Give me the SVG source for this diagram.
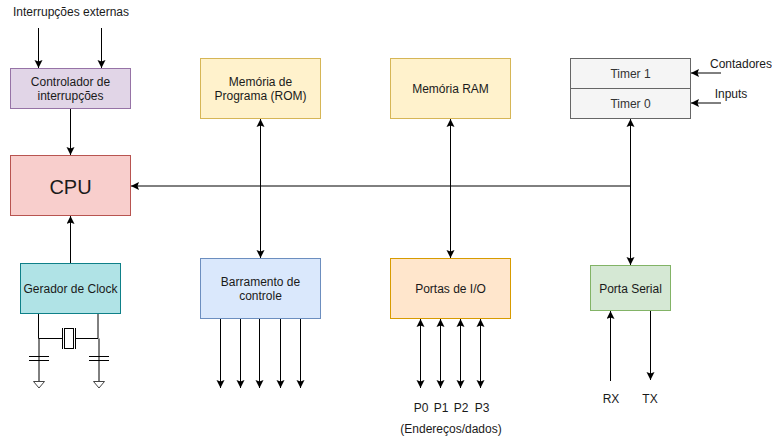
<svg xmlns="http://www.w3.org/2000/svg" width="772" height="439" viewBox="0 0 772 439">
<style>
text{font-family:"Liberation Sans",Arial,sans-serif;font-size:12px;fill:#1a1a1a;text-anchor:middle}
.c{fill:none;stroke:#000;stroke-width:1}
.a{marker-end:url(#h)}
.d{marker-start:url(#hs);marker-end:url(#h)}
</style>
<defs>
<marker id="h" markerUnits="userSpaceOnUse" markerWidth="10" markerHeight="10" refX="8" refY="4" orient="auto"><path d="M0 0L8 4L0 8L1.500 4Z" fill="#000"/></marker>
<marker id="hs" markerUnits="userSpaceOnUse" markerWidth="10" markerHeight="10" refX="0" refY="4" orient="auto"><path d="M8 0L0 4L8 8L6.500 4Z" fill="#000"/></marker>
</defs>
<rect width="772" height="439" fill="#fff"/>
<g id="connectors">
<path class="c a" d="M38.500 28V68"/>
<path class="c a" d="M101.500 28V68"/>
<path class="c a" d="M70.500 108V155"/>
<path class="c a" d="M70.500 263V216"/>
<path class="c a" d="M630.500 186H131"/>
<path class="c d" d="M260.500 119V258"/>
<path class="c d" d="M450.500 119V258"/>
<path class="c d" d="M630.500 119V265"/>
<path class="c a" d="M220.500 319V388"/>
<path class="c a" d="M240.500 319V388"/>
<path class="c a" d="M259.500 319V388"/>
<path class="c a" d="M280.500 319V388"/>
<path class="c a" d="M300.500 319V388"/>
<path class="c d" d="M420.500 319V388"/>
<path class="c d" d="M440.500 319V388"/>
<path class="c d" d="M460.500 319V388"/>
<path class="c d" d="M480.500 319V388"/>
<path class="c a" d="M610.500 381V311"/>
<path class="c a" d="M650.500 311V380"/>
<path class="c a" d="M721 73H691"/>
<path class="c a" d="M721 103H691"/>
</g>
<g id="crystal" fill="none" stroke="#000">
<path d="M38.500 314V338.500H62M76 338.500H98"/>
<path d="M98 314V338.500M39 338.500V382M99 338.500V382"/>
<rect x="64.500" y="328.500" width="9" height="20" fill="#fff"/>
<path d="M62.500 328V349M75.500 328V349"/>
<path d="M29 356.500H49M29 360.500H49M89 356.500H109M89 360.500H109"/>
<path d="M33.500 381.500H44.500L39 388Z M93.500 381.500H104.500L99 388Z" fill="#fff" stroke="#444"/>
</g>
<g id="int"><rect x="10.500" y="68.500" width="120" height="40" fill="#e1d5e7" stroke="#9673a6"/><text x="70.500" y="86">Controlador de</text><text x="70.500" y="100">interrupções</text></g>
<g id="cpu"><rect x="10.500" y="155.500" width="120" height="60" fill="#f8cecc" stroke="#b85450"/><text x="70.500" y="194" style="font-size:20px">CPU</text></g>
<g id="clock"><rect x="20.500" y="263.500" width="100" height="50" fill="#b0e3e6" stroke="#0e8088"/><text x="70.500" y="293">Gerador de Clock</text></g>
<g id="rom"><rect x="200.500" y="58.500" width="120" height="60" fill="#fff2cc" stroke="#d6b656"/><text x="260.500" y="86">Memória de</text><text x="260.500" y="100">Programa (ROM)</text></g>
<g id="ram"><rect x="390.500" y="58.500" width="120" height="60" fill="#fff2cc" stroke="#d6b656"/><text x="450.500" y="93">Memória RAM</text></g>
<g id="timer1"><rect x="570.500" y="58.500" width="120" height="30" fill="#f5f5f5" stroke="#666"/><text x="630.500" y="78" style="fill:#333">Timer 1</text></g>
<g id="timer0"><rect x="570.500" y="88.500" width="120" height="30" fill="#f5f5f5" stroke="#666"/><text x="630.500" y="108" style="fill:#333">Timer 0</text></g>
<g id="ctrl"><rect x="200.500" y="258.500" width="120" height="60" fill="#dae8fc" stroke="#6c8ebf"/><text x="260.500" y="286">Barramento de</text><text x="260.500" y="300">controle</text></g>
<g id="io"><rect x="390.500" y="258.500" width="120" height="60" fill="#ffe6cc" stroke="#d79b00"/><text x="450.500" y="293">Portas de I/O</text></g>
<g id="serial"><rect x="590.500" y="265.500" width="80" height="45" fill="#d5e8d4" stroke="#82b366"/><text x="630.500" y="293">Porta Serial</text></g>
<g id="labels">
<text x="71" y="16">Interrupções externas</text>
<text x="741" y="68">Contadores</text>
<text x="731" y="98">Inputs</text>
<text x="421" y="412">P0</text><text x="441" y="412">P1</text><text x="461" y="412">P2</text><text x="482" y="412">P3</text>
<text x="451" y="433">(Endereços/dados)</text>
<text x="611" y="403">RX</text><text x="650" y="403">TX</text>
</g>
</svg>
